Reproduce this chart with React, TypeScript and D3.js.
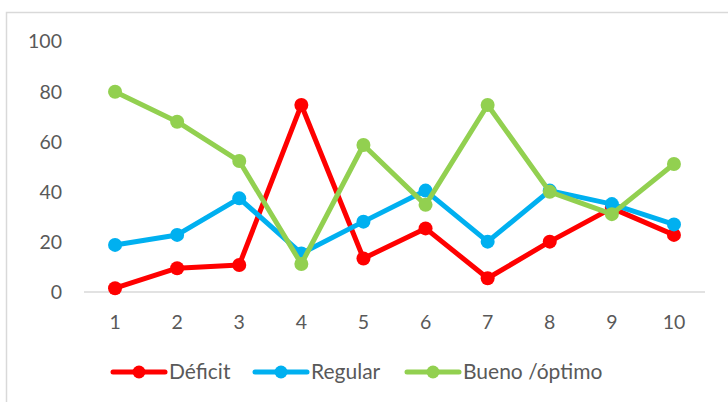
import React from "react";
import * as d3 from "d3";

const categories = ["1", "2", "3", "4", "5", "6", "7", "8", "9", "10"];
const deficit = [1.5, 9.5, 10.8, 74.7, 13.4, 25.4, 5.5, 20.1, 33.5, 22.8];
const regular = [18.8, 22.8, 37.4, 15.4, 28.1, 40.5, 20.1, 40.5, 35.1, 27];
const bueno = [80, 68, 52.3, 11.2, 58.7, 34.8, 74.7, 40, 31.1, 51.1];
const yTicks = [0, 20, 40, 60, 80, 100];

const seriesNames = ["Déficit", "Regular", "Bueno /óptimo"];
const seriesColors = ["#FF0000", "#00B0F0", "#92D050"];
const seriesData = [deficit, regular, bueno];

const W = 728;
const H = 402;
const FONT = "Lato, 'Open Sans', sans-serif";
const TEXT = "#595959";

export default function App() {
  const x = d3.scaleBand<string>().domain(categories).range([84, 705]);
  const y = d3.scaleLinear().domain([0, 100]).range([292, 41.6]);
  const line = d3
    .line<number>()
    .x((_, i) => (x(categories[i]) as number) + x.bandwidth() / 2)
    .y((d) => y(d));

  const legendX = [113, 255, 407];
  const legendY = 372;

  return (
    <svg
      width={W}
      height={H}
      style={{ position: "absolute", left: 0, top: 0, background: "#fff" }}
      fontFamily={FONT}
    >
      <rect x={6.5} y={12.5} width={740} height={420} fill="#fff" stroke="#D9D9D9" strokeWidth={1.5} />
      {yTicks.map((t) => (
        <text key={t} x={62} y={y(t)} dy="0.35em" textAnchor="end" fontSize={19.5} fill={TEXT}>
          {t}
        </text>
      ))}
      <line x1={84} x2={705} y1={y(0)} y2={y(0)} stroke="#D9D9D9" strokeWidth={1.5} />
      {categories.map((c) => (
        <text
          key={c}
          x={(x(c) as number) + x.bandwidth() / 2}
          y={322}
          dy="0.35em"
          textAnchor="middle"
          fontSize={19.5}
          fill={TEXT}
        >
          {c}
        </text>
      ))}
      {seriesData.map((data, si) => (
        <g key={si}>
          <path d={line(data) || ""} fill="none" stroke={seriesColors[si]} strokeWidth={5} strokeLinejoin="round" />
          {data.map((v, i) => (
            <circle
              key={i}
              cx={(x(categories[i]) as number) + x.bandwidth() / 2}
              cy={y(v)}
              r={7}
              fill={seriesColors[si]}
            />
          ))}
        </g>
      ))}
      {seriesNames.map((n, si) => (
        <g key={n}>
          <line
            x1={legendX[si]}
            x2={legendX[si] + 52}
            y1={legendY}
            y2={legendY}
            stroke={seriesColors[si]}
            strokeWidth={5}
            strokeLinecap="round"
          />
          <circle cx={legendX[si] + 26} cy={legendY} r={6.5} fill={seriesColors[si]} />
          <text x={legendX[si] + 56} y={legendY} dy="0.35em" fontSize={21} fill={TEXT}>
            {n}
          </text>
        </g>
      ))}
    </svg>
  );
}
